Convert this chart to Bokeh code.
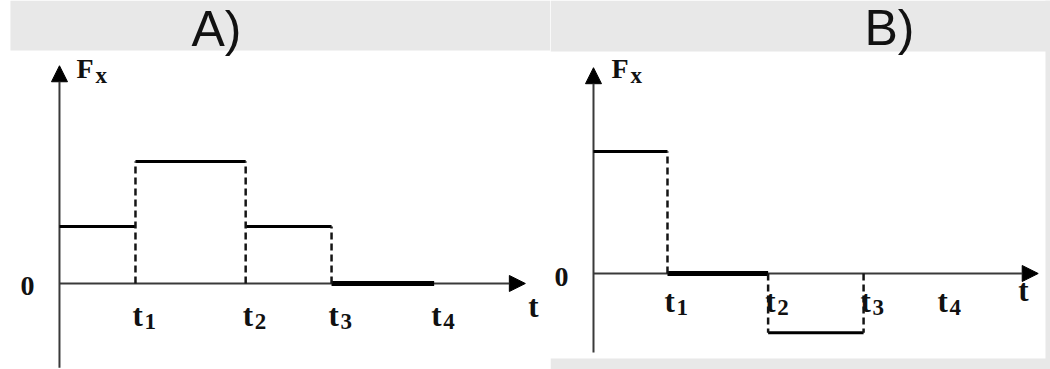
from bokeh.plotting import figure
from bokeh.models import Arrow, NormalHead, BoxAnnotation, ColumnDataSource, Range1d
from bokeh.layouts import row
from bokeh.embed import file_html
from bokeh.resources import INLINE
from bokeh.core.properties import value

# ---------------- data ----------------
titles = ["A)", "B)"]
# Panel A: time breakpoints (0, t1, t2, t3, t4) and force level on each interval
tA = [0.0, 1.0, 2.45, 3.58, 4.93]
FA = [1.0, 2.14, 1.0, 0.0]
# Panel B: time breakpoints (0, t1, t2, t3, t4) and force level on each interval
tB = [0.0, 1.0, 2.36, 3.65, 4.69]
FB = [2.14, 0.0, -1.04]
tick_subs = ["1", "2", "3", "4"]
y_label_main = "F"
y_label_sub = "x"
x_label = "t"
zero_label = "0"

GREY = "#e8e8e8"
INK = "#111111"
SERIF = value("Liberation Serif")
SANS = value("Liberation Sans")


def lift(size):
    # pixels the alphabetic anchor sits above the drawn baseline
    return round(0.38 * size)


def build(t, F, title, cfg):
    p = figure(width=cfg["w"], height=369, output_backend="svg", toolbar_location=None,
               x_range=Range1d(*cfg["xr"]), y_range=Range1d(*cfg["yr"]),
               x_axis_type=None, y_axis_type=None, min_border=0)
    p.min_border_left = p.min_border_right = p.min_border_top = p.min_border_bottom = 0
    p.outline_line_color = None
    p.background_fill_color = "white"
    p.border_fill_color = GREY

    # grey surroundings of the white drawing sheet
    for box in cfg["grey"]:
        p.add_layout(BoxAnnotation(fill_color=GREY, fill_alpha=1.0, line_color=None,
                                   level="underlay", **box))

    # axes with arrows
    p.add_layout(Arrow(end=NormalHead(size=16, fill_color="black", line_color="black"),
                       x_start=0, y_start=0, x_end=cfg["xend"], y_end=0,
                       line_color="#3a3a3a", line_width=2, level="underlay"))
    p.add_layout(Arrow(end=NormalHead(size=16, fill_color="black", line_color="black"),
                       x_start=0, y_start=cfg["ybot"], x_end=0, y_end=cfg["ytop"],
                       line_color="#3a3a3a", line_width=2, level="underlay"))

    # step levels
    n = len(F)
    seg = ColumnDataSource(dict(
        x0=t[:n], x1=t[1:n + 1], y=F,
        w=[5 if f == 0 else 3 for f in F]))
    p.segment(x0="x0", y0="y", x1="x1", y1="y", source=seg,
              line_color="black", line_width="w", line_cap="butt")

    # dashed verticals at the jumps
    dx, dy0, dy1 = [], [], []
    for i in range(1, n + 1):
        before = F[i - 1]
        after = F[i] if i < n else 0.0
        top = before if abs(before) >= abs(after) else after
        if top != 0:
            dx.append(t[i]); dy0.append(0.0); dy1.append(top)
    p.segment(x0=dx, y0=dy0, x1=dx, y1=dy1, line_color="#151515",
              line_width=2.5, line_dash="7 4")

    # tick labels t1..t4
    m = len(tick_subs)
    p.text(x=t[1:m + 1], y=[0] * m, text=[x_label] * m, text_font=SERIF,
           text_font_style="bold", text_font_size="31px", text_color=INK,
           text_align="left", text_baseline="alphabetic",
           x_offset=-3, y_offset=cfg["tl"] - lift(31))
    p.text(x=t[1:m + 1], y=[0] * m, text=tick_subs, text_font=SERIF,
           text_font_style="bold", text_font_size="23px", text_color=INK,
           text_align="left", text_baseline="alphabetic",
           x_offset=9, y_offset=cfg["tl"] + 3 - lift(23))

    # zero label
    p.text(x=[0], y=[0], text=[zero_label], text_font=SERIF, text_font_style="bold",
           text_font_size="28px", text_color=INK, text_align="right",
           text_baseline="alphabetic", x_offset=-25, y_offset=14 - lift(28))

    # axis names
    p.text(x=[cfg["xend"]], y=[0], text=[x_label], text_font=SERIF, text_font_style="bold",
           text_font_size="31px", text_color=INK, text_align="left",
           text_baseline="alphabetic", x_offset=cfg["tx"][0],
           y_offset=cfg["tx"][1] - lift(31))
    p.text(x=[0], y=[cfg["ytop"]], text=[y_label_main], text_font=SERIF,
           text_font_style="bold", text_font_size="28px", text_color=INK,
           text_align="left", text_baseline="alphabetic",
           x_offset=cfg["fx"][0], y_offset=cfg["fx"][1] - lift(28))
    p.text(x=[0], y=[cfg["ytop"]], text=[y_label_sub], text_font=SERIF,
           text_font_style="bold", text_font_size="23px", text_color=INK,
           text_align="left", text_baseline="alphabetic",
           x_offset=cfg["fx"][0] + 19, y_offset=cfg["fx"][1] + 5 - lift(23))

    # panel title in the grey band
    p.text(x=[cfg["title"][0]], y=[cfg["title"][1]], text=[title], text_font=SANS,
           text_font_size="50px", text_color=INK, text_align="left",
           text_baseline="alphabetic", y_offset=-lift(50))
    return p


cfgA = dict(w=550, xr=(-0.776, 6.461), yr=(-1.509, 4.965),
            grey=[dict(left=-0.645, bottom=4.088)],
            xend=6.13, ytop=3.82, ybot=-1.48, tl=44, tx=(3, 35), fx=(17, 14),
            title=(1.737, 4.14))
cfgB = dict(w=500, xr=(-0.581, 6.176), yr=(-1.684, 4.789),
            grey=[dict(bottom=3.895), dict(left=6.108), dict(top=-1.491)],
            xend=6.01, ytop=3.61, ybot=-1.386, tl=40, tx=(-20, 29), fx=(18, 12),
            title=(3.662, 3.965))

pA = build(tA, FA, titles[0], cfgA)
pB = build(tB, FB, titles[1], cfgB)

layout = row(pA, pB, spacing=0)
open("out.html", "w").write(file_html(layout, INLINE))
